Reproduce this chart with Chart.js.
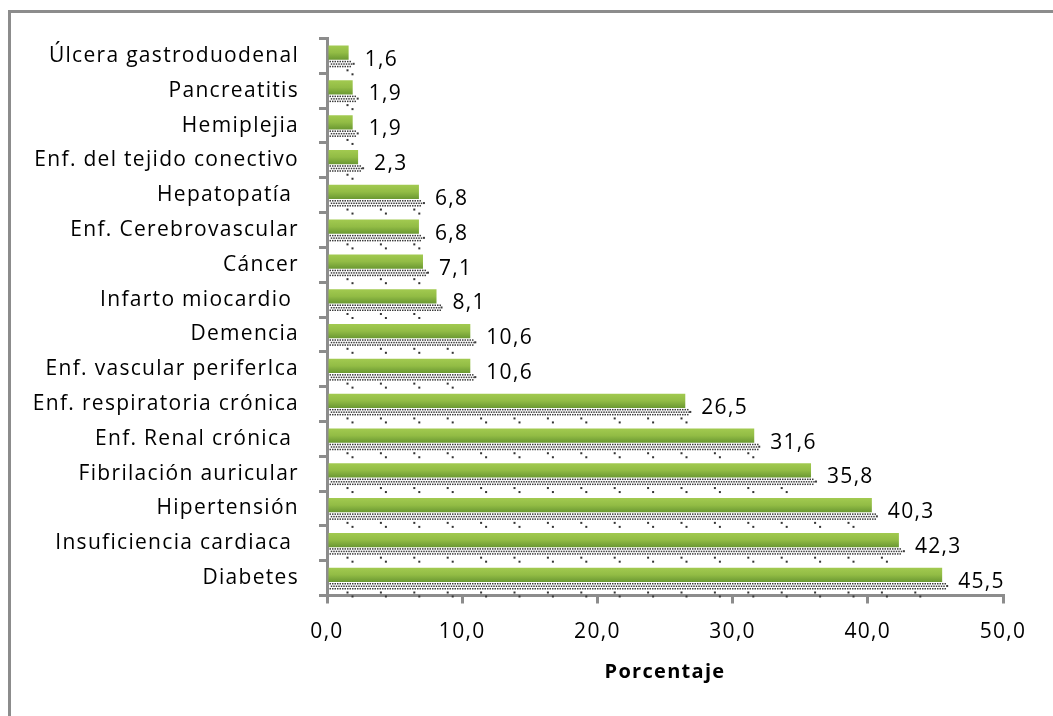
<!DOCTYPE html>
<html>
<head>
<meta charset="utf-8">
<script src="https://cdn.jsdelivr.net/npm/chart.js@4.4.1/dist/chart.umd.min.js"></script>
<style>
  html, body { margin: 0; padding: 0; background: #fff; overflow: hidden; }
  #frame { position: absolute; left: 8px; top: 10px; width: 1100px; height: 800px; border: 3px solid #8c8c8c; }
  #wrap { position: absolute; left: 0; top: 0; width: 1053px; height: 716px; }
</style>
</head>
<body>
<div id="frame"></div>
<div id="wrap"><canvas id="comorbChart"></canvas></div>
<script>
// categories from top to bottom, as they appear in the chart
const categories = [
  "Úlcera gastroduodenal", "Pancreatitis", "Hemiplejia", "Enf. del tejido conectivo",
  "Hepatopatía ", "Enf. Cerebrovascular", "Cáncer", "Infarto miocardio ",
  "Demencia", "Enf. vascular periferIca", "Enf. respiratoria crónica", "Enf. Renal crónica ",
  "Fibrilación auricular", "Hipertensión", "Insuficiencia cardiaca ", "Diabetes"
];
const values = [1.6, 1.9, 1.9, 2.3, 6.8, 6.8, 7.1, 8.1, 10.6, 10.6, 26.5, 31.6, 35.8, 40.3, 42.3, 45.5];
const xTickLabels = ["0,0", "10,0", "20,0", "30,0", "40,0", "50,0"];
const xTitle = "Porcentaje";

const fmt = v => v.toFixed(1).replace(".", ",");

// green bar with a vertical gradient
function greenFill(context) {
  const chart = context.chart;
  const y = chart.scales.y;
  if (!y || context.dataIndex === undefined) return "#8fbb44";
  const band = y.height / categories.length;
  const c = y.getPixelForValue(context.dataIndex);
  if (!isFinite(c) || !isFinite(band) || band <= 0) return "#8fbb44";
  const g = chart.ctx.createLinearGradient(0, c - band * 0.3, 0, c + band * 0.112);
  g.addColorStop(0, "#a2ca50");
  g.addColorStop(0.5, "#92bc45");
  g.addColorStop(1, "#6a9832");
  return g;
}

const textSpacing = {
  id: "textSpacing",
  beforeDraw(chart) {
    chart.ctx.letterSpacing = "1.3px";
  }
};

// dotted "shadow" under each bar
const shadowDots = {
  id: "shadowDots",
  afterDatasetsDraw(chart) {
    const ctx = chart.ctx;
    const meta = chart.getDatasetMeta(1);
    ctx.save();
    meta.data.forEach(bar => {
      const top = bar.y - bar.height / 2;
      const left = bar.base;
      const right = bar.x + 3;
      ctx.fillStyle = "#3c3c3c";
      for (let r = 0; r < 3; r++) {
        const yy = top + 1 + r * 2.5;
        for (let xx = left + 1 + (r % 2) * 1.25; xx < right; xx += 2.5) {
          ctx.fillRect(xx, yy, 1.5, 1.5);
        }
      }
      ctx.fillRect(right + 1, top + 3, 2, 2);
      ctx.fillStyle = "#333";
      for (let xx = left + 18; xx < right; xx += 33.4) {
        ctx.fillRect(xx, top + 9.5, 2, 2);
        ctx.fillRect(xx + 5, top + 13.5, 2, 2);
      }
    });
    ctx.restore();
  }
};

const valueLabels = {
  id: "valueLabels",
  afterDatasetsDraw(chart) {
    const ctx = chart.ctx;
    const meta = chart.getDatasetMeta(0);
    ctx.save();
    ctx.font = '21px "Open Sans"';
    ctx.fillStyle = "#000";
    ctx.textAlign = "left";
    ctx.textBaseline = "middle";
    meta.data.forEach((bar, i) => {
      ctx.fillText(fmt(values[i]), bar.x + 16, bar.y + 7);
    });
    ctx.restore();
  }
};

Chart.defaults.font.family = '"Open Sans"';
Chart.defaults.font.size = 21;
Chart.defaults.color = "#000";

const ctx = document.getElementById("comorbChart").getContext("2d");
new Chart(ctx, {
  type: "bar",
  data: {
    labels: categories,
    datasets: [
      {
        label: "Porcentaje",
        data: values,
        backgroundColor: greenFill,
        borderWidth: 0,
        categoryPercentage: 0.3736,
        barPercentage: 2.2
      },
      {
        label: "sombra",
        data: values,
        backgroundColor: "rgba(0,0,0,0)",
        borderWidth: 0,
        categoryPercentage: 1.31,
        barPercentage: 0.658
      }
    ]
  },
  options: {
    indexAxis: "y",
    responsive: true,
    maintainAspectRatio: false,
    animation: false,
    events: [],
    layout: {
      padding: { top: 38.5, right: 50, bottom: 0, left: 0 }
    },
    plugins: {
      legend: { display: false },
      tooltip: { enabled: false }
    },
    scales: {
      x: {
        min: 0,
        max: 50,
        afterFit: scale => { scale.height = 120.5; },
        ticks: {
          stepSize: 10,
          padding: 16,
          callback: (v, i) => xTickLabels[i]
        },
        grid: {
          drawOnChartArea: false,
          drawTicks: true,
          tickLength: 8,
          color: "#8c8c8c",
          lineWidth: 3
        },
        border: { color: "#8c8c8c", width: 3 },
        title: {
          display: true,
          text: xTitle,
          color: "#000",
          font: { size: 20, weight: "bold" },
          padding: { top: 0, bottom: 32 }
        }
      },
      y: {
        afterFit: scale => { scale.width = 327; },
        ticks: {
          autoSkip: false,
          padding: 20
        },
        grid: {
          offset: true,
          drawOnChartArea: false,
          drawTicks: true,
          tickLength: 8,
          color: "#8c8c8c",
          lineWidth: 3
        },
        border: { color: "#8c8c8c", width: 3 }
      }
    }
  },
  plugins: [textSpacing, shadowDots, valueLabels]
});
</script>
</body>
</html>
